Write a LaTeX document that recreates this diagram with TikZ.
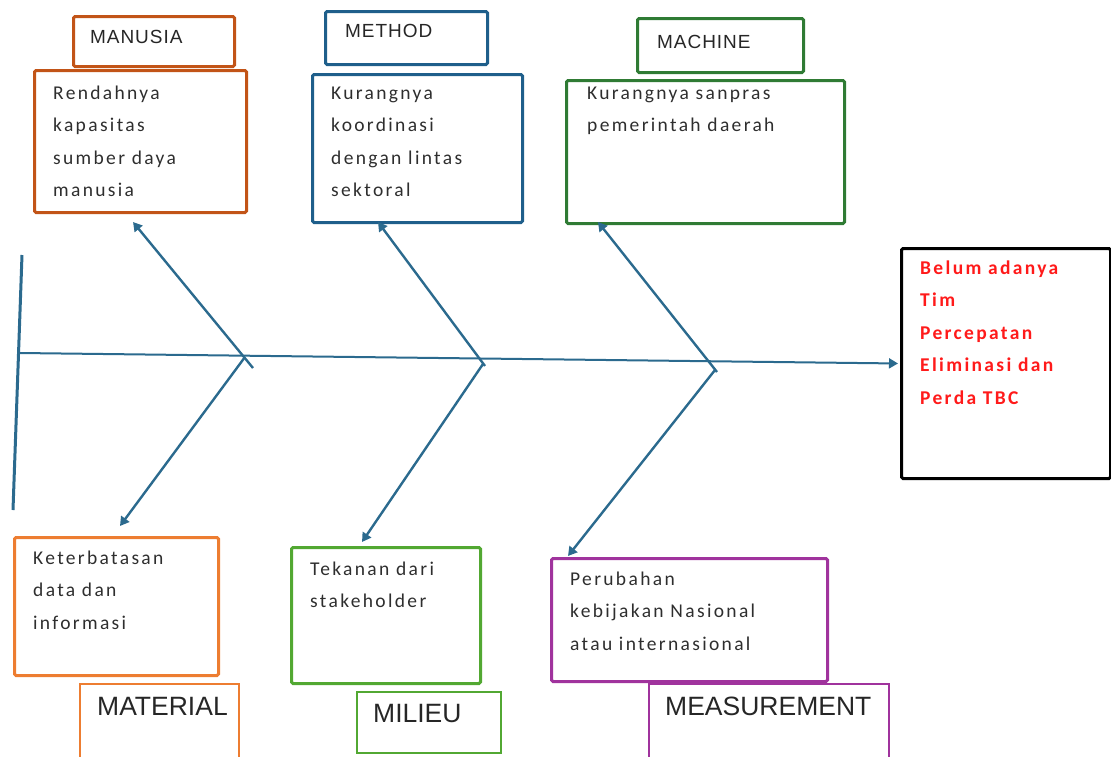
\documentclass[tikz,border=0pt]{standalone}
\usepackage{fontspec}
\usetikzlibrary{arrows.meta}
\newfontfamily\bodyf[LetterSpace=12]{Carlito}
\newfontfamily\labf[LetterSpace=5]{Liberation Sans}
\newfontfamily\bigf{Liberation Sans}
\definecolor{manC}{HTML}{C25417}
\definecolor{metC}{HTML}{1F5F8B}
\definecolor{macC}{HTML}{2F7B34}
\definecolor{matC}{HTML}{ED7D31}
\definecolor{milC}{HTML}{52A832}
\definecolor{meaC}{HTML}{A0339D}
\definecolor{boneC}{HTML}{2B6A8E}
\definecolor{effC}{HTML}{FF1A1A}
\definecolor{txtC}{HTML}{2E2E2E}
\begin{document}
\begin{tikzpicture}[x=1pt,y=-1pt,
  box/.style={draw=#1, line width=3pt, rounded corners=1.5pt, inner sep=0pt, anchor=north west},
  thinbox/.style={draw=#1, line width=1.5pt, inner sep=0pt, anchor=north west},
  sz/.style 2 args={minimum width=#1pt, minimum height=#2pt},
  body/.style={font=\bodyf\fontsize{19.5}{32.5}\selectfont, text=txtC, align=left, anchor=base west, inner sep=0pt},
  eff/.style={font=\bodyf\bfseries\fontsize{19.5}{32.5}\selectfont, text=effC, align=left, anchor=base west, inner sep=0pt},
  lab/.style={font=\labf\fontsize{19}{22}\selectfont, text=black!85, anchor=base west, inner sep=0pt},
  biglab/.style={font=\bigf\fontsize{26.5}{30}\selectfont, text=black!85, anchor=base west, inner sep=0pt},
  tip/.style={-{Triangle[length=9pt,width=10pt]}},
  bone/.style={draw=boneC, line width=2.4pt, tip},
]
\useasboundingbox (0,0) rectangle (1111,756);
\clip (0,0) rectangle (1111,756);

% top boxes (text nodes are placed by the baseline of their last line)
\node[box=manC, sz={161}{50}] (manL) at (72,15) {};
\node[lab] (manT) at (90,43) {MANUSIA};
\node[box=manC, sz={212}{142}] (manB) at (33,69) {};
\node[body] (manX) at (53,196.5) {Rendahnya\\kapasitas\\sumber daya\\manusia};

\node[box=metC, sz={162}{53}] (metL) at (324,10) {};
\node[lab] (metT) at (345,37) {METHOD};
\node[box=metC, sz={210}{148}] (metB) at (311,73) {};
\node[body] (metX) at (331,196.5) {Kurangnya\\koordinasi\\dengan lintas\\sektoral};

\node[box=macC, sz={166}{54}] (macL) at (636,17) {};
\node[lab] (macT) at (657,48) {MACHINE};
\node[box=macC, sz={278}{143}] (macB) at (565,79) {};
\node[body] (macX) at (587,131.5) {Kurangnya sanpras\\pemerintah daerah};

% effect
\node[box=black, sz={209}{230}] (effB) at (900,247) {};
\node[eff] (effX) at (920,404) {Belum adanya\\Tim\\Percepatan\\Eliminasi dan\\Perda TBC};

% bottom boxes
\node[box=matC, sz={204}{138}] (matB) at (13,536) {};
\node[body] (matX) at (33,629) {Keterbatasan\\data dan\\informasi};
\node[thinbox=matC, sz={159}{80}] (matL) at (79,683) {};
\node[biglab] (matT) at (97,715) {MATERIAL};

\node[box=milC, sz={189}{136}] (milB) at (290,546) {};
\node[body] (milX) at (310,607.5) {Tekanan dari\\stakeholder};
\node[thinbox=milC, sz={144}{61}] (milL) at (356,691) {};
\node[biglab] (milT) at (373,722) {MILIEU};

\node[box=meaC, sz={276}{123}] (meaB) at (550,557) {};
\node[body] (meaX) at (570,650) {Perubahan\\kebijakan Nasional\\atau internasional};
\node[thinbox=meaC, sz={240}{80}] (meaL) at (648,683) {};
\node[biglab] (meaT) at (665,715) {MEASUREMENT};

% skeleton
\coordinate (vT) at (22,255);
\coordinate (vB) at (13,510);
\coordinate (sL) at (20,353);
\draw[boneC, line width=3pt] (vT) -- (vB);
\draw[boneC, line width=2pt, tip, shorten >=2pt] (sL) -- (effB.west);

\coordinate (a1) at (253,368); \coordinate (t1) at (133,222);
\coordinate (b1) at (245,357); \coordinate (u1) at (120,526);
\coordinate (a2) at (485,366); \coordinate (t2) at (378,222);
\coordinate (b2) at (483,364); \coordinate (u2) at (362,542);
\coordinate (a3) at (717,372); \coordinate (t3) at (598,222);
\coordinate (b3) at (715,370); \coordinate (u3) at (568,556);
\draw[bone] (a1) -- (t1);
\draw[bone] (b1) -- (u1);
\draw[bone] (a2) -- (t2);
\draw[bone] (b2) -- (u2);
\draw[bone] (a3) -- (t3);
\draw[bone] (b3) -- (u3);
\end{tikzpicture}
\end{document}
